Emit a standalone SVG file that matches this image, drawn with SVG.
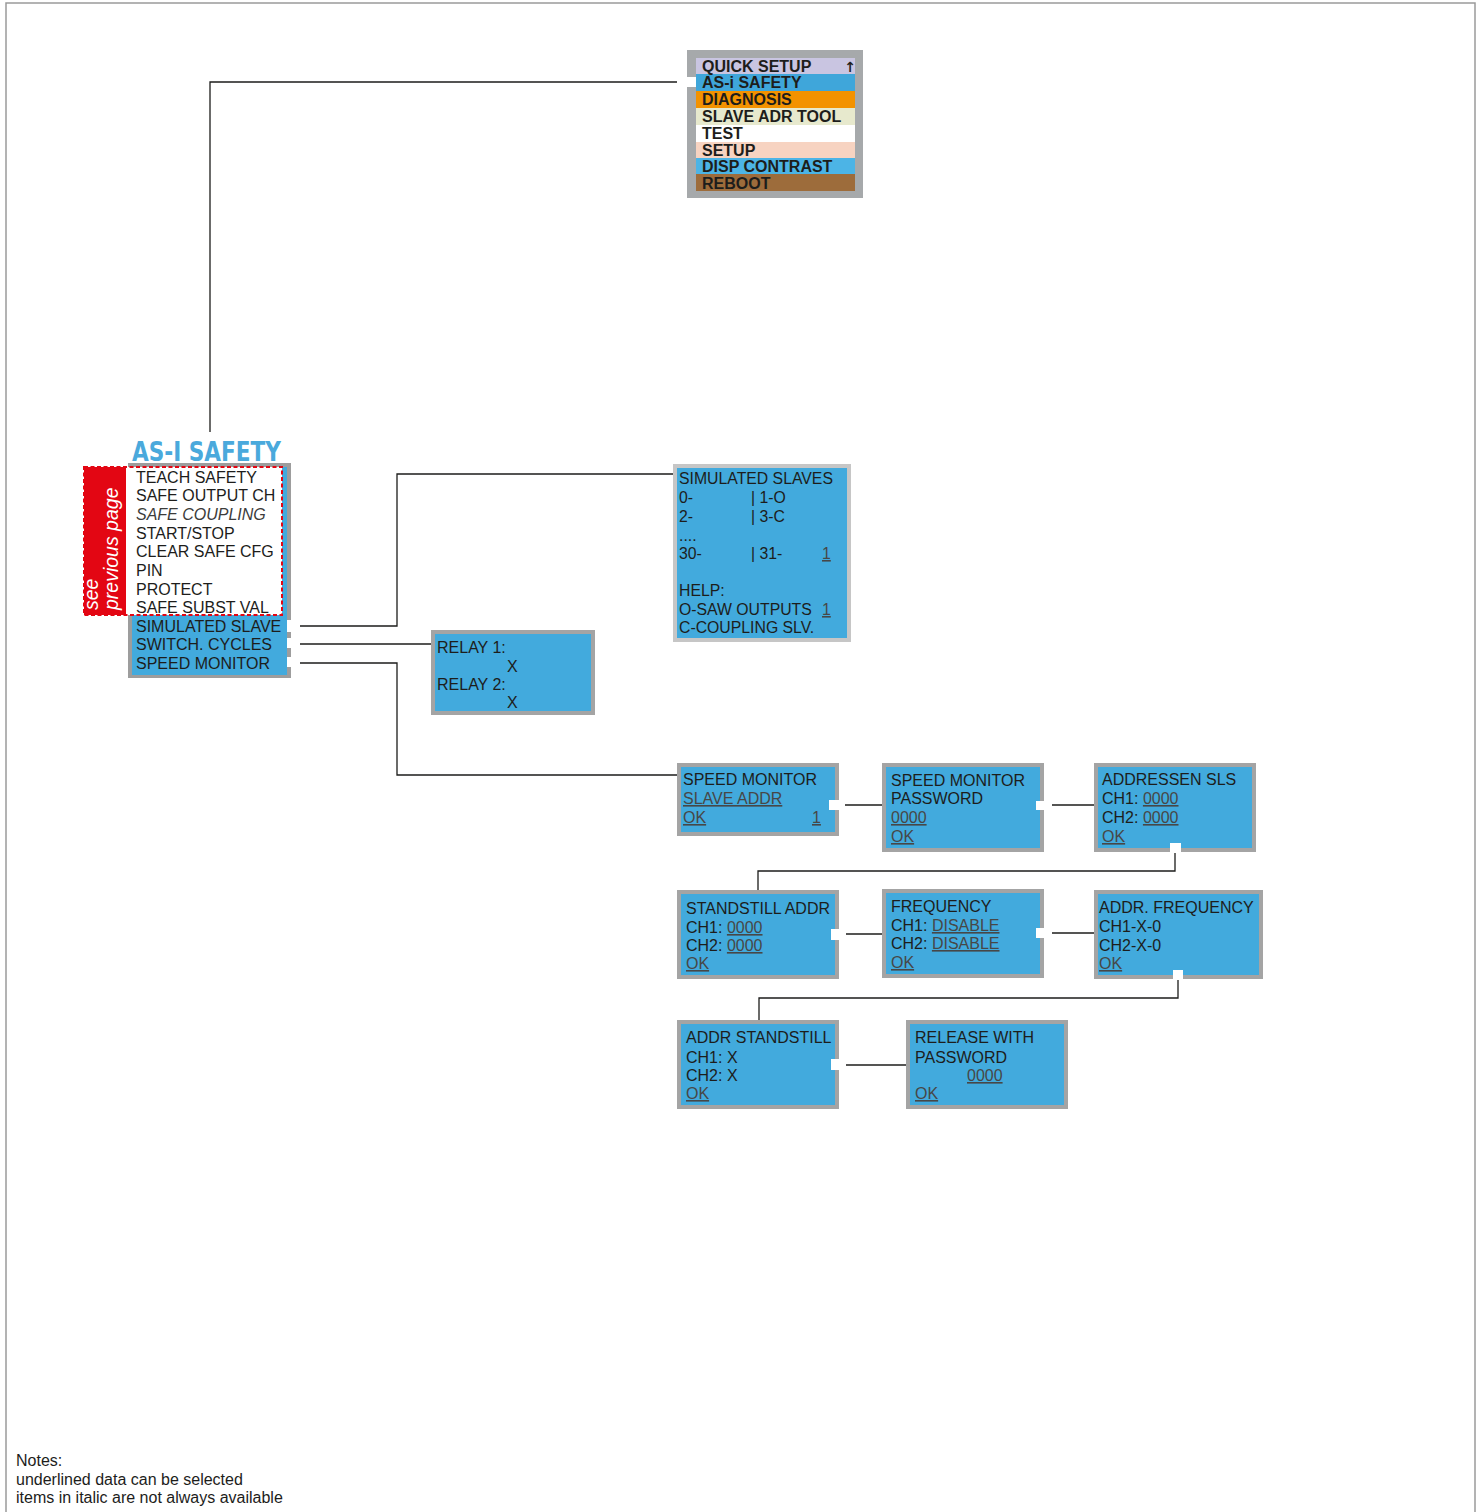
<svg xmlns="http://www.w3.org/2000/svg" width="1482" height="1512" viewBox="0 0 1482 1512">
<style>
.t{font-family:"Liberation Sans",Arial,sans-serif;font-size:16px;fill:#1d1d1b}
.b{font-weight:bold}
.u{fill:#474747;text-decoration:underline}
.box{fill:#42aadd;stroke:#a4a4a4;stroke-width:4}
.ln{stroke:#1d1d1b;stroke-width:1.3;fill:none}
.n{fill:#ffffff}
</style>
<rect width="1482" height="1512" fill="#ffffff"/>
<path d="M6,1512 V3 H1475 V1512" fill="none" stroke="#9a9a9a" stroke-width="1.5"/>

<g id="connectors">
<path class="ln" d="M210,432 V82 H677"/>
<path class="ln" d="M300,626 H397 V474 H676"/>
<path class="ln" d="M300,644 H431"/>
<path class="ln" d="M300,663 H397 V775 H677"/>
<path class="ln" d="M845,805 H882"/>
<path class="ln" d="M1052,805 H1094"/>
<path class="ln" d="M1175,853 V871 H758 V890"/>
<path class="ln" d="M846,934 H882"/>
<path class="ln" d="M1052,933 H1094"/>
<path class="ln" d="M1178,980 V998 H759 V1020"/>
<path class="ln" d="M846,1065 H906"/>
</g>

<g id="main-menu">
<rect x="687" y="50" width="176" height="148" fill="#a6a9ab"/>
<rect x="696" y="58" width="159" height="16" fill="#c9c5e1"/>
<rect x="696" y="74" width="159" height="17" fill="#3fa6da"/>
<rect x="696" y="91" width="159" height="17" fill="#f39200"/>
<rect x="696" y="108" width="159" height="17" fill="#e7e9cd"/>
<rect x="696" y="125" width="159" height="17" fill="#ffffff"/>
<rect x="696" y="142" width="159" height="16" fill="#f7d3c1"/>
<rect x="696" y="158" width="159" height="16" fill="#4cb4e6"/>
<rect x="696" y="174" width="159" height="17" fill="#9d6c3b"/>
<rect class="n" x="687" y="77" width="9" height="10"/>
<text class="t b" x="702" y="72">QUICK SETUP</text>
<text x="850" y="72" text-anchor="middle" style="font-family:'DejaVu Sans',sans-serif;font-weight:bold;font-size:14px;fill:#1d1d1b">↑</text>
<text class="t b" x="702" y="88">AS-i SAFETY</text>
<text class="t b" x="702" y="105">DIAGNOSIS</text>
<text class="t b" x="702" y="122">SLAVE ADR TOOL</text>
<text class="t b" x="702" y="139">TEST</text>
<text class="t b" x="702" y="156">SETUP</text>
<text class="t b" x="702" y="172">DISP CONTRAST</text>
<text class="t b" x="702" y="189">REBOOT</text>
</g>

<g id="asi-safety">
<text x="132" y="461" textLength="149" lengthAdjust="spacingAndGlyphs" style="font-family:'DejaVu Sans Condensed','DejaVu Sans',sans-serif;font-weight:bold;font-size:27px;fill:#4aa9dc">AS-I SAFETY</text>
<rect x="128" y="463" width="163" height="215" fill="#9d9d9d"/>
<rect x="132" y="467" width="155" height="208" fill="#42aadd"/>
<rect x="84" y="467" width="42" height="148" fill="#e30613"/>
<rect x="126" y="467" width="156" height="148" fill="#ffffff"/>
<rect x="84" y="467" width="198" height="148" fill="none" stroke="#e30613" stroke-width="2" stroke-dasharray="4 2.5"/>
<text transform="translate(98,610) rotate(-90)" style="font-family:'Liberation Sans',Arial,sans-serif;font-style:italic;font-size:19.5px;fill:#ffffff">see</text>
<text transform="translate(118,610) rotate(-90)" style="font-family:'Liberation Sans',Arial,sans-serif;font-style:italic;font-size:19.5px;fill:#ffffff">previous page</text>
<text class="t" x="136" y="483">TEACH SAFETY</text>
<text class="t" x="136" y="501">SAFE OUTPUT CH</text>
<text class="t" x="136" y="520" style="font-style:italic;fill:#3c3c3b">SAFE COUPLING</text>
<text class="t" x="136" y="539">START/STOP</text>
<text class="t" x="136" y="557">CLEAR SAFE CFG</text>
<text class="t" x="136" y="576">PIN</text>
<text class="t" x="136" y="595">PROTECT</text>
<text class="t" x="136" y="613">SAFE SUBST VAL</text>
<text class="t" x="136" y="632">SIMULATED SLAVE</text>
<text class="t" x="136" y="650">SWITCH. CYCLES</text>
<text class="t" x="136" y="669">SPEED MONITOR</text>
<rect class="n" x="287" y="620" width="8" height="12"/>
<rect class="n" x="287" y="638" width="8" height="10"/>
<rect class="n" x="287" y="657" width="8" height="10"/>
</g>

<g id="simulated-slaves">
<rect x="675" y="466" width="174" height="174" fill="#42aadd" stroke="#c6c6c6" stroke-width="4"/>
<text class="t" x="679" y="484" style="font-size:15.8px">SIMULATED SLAVES</text>
<text class="t" x="679" y="503" style="font-size:15.8px">0-</text>
<text class="t" x="751" y="503" style="font-size:15.8px">| 1-O</text>
<text class="t" x="679" y="522" style="font-size:15.8px">2-</text>
<text class="t" x="751" y="522" style="font-size:15.8px">| 3-C</text>
<text class="t" x="679" y="541" style="font-size:15.8px">....</text>
<text class="t" x="679" y="559" style="font-size:15.8px">30-</text>
<text class="t" x="751" y="559" style="font-size:15.8px">| 31-</text>
<text class="t u" x="822" y="559" style="font-size:15.8px">1</text>
<text class="t" x="679" y="596" style="font-size:15.8px">HELP:</text>
<text class="t" x="679" y="615" style="font-size:15.8px">O-SAW OUTPUTS</text>
<text class="t u" x="822" y="615" style="font-size:15.8px">1</text>
<text class="t" x="679" y="633" style="font-size:15.8px">C-COUPLING SLV.</text>
</g>

<g id="relay">
<rect class="box" x="433" y="632" width="160" height="81"/>
<text class="t" x="437" y="653">RELAY 1:</text>
<text class="t" x="507" y="672">X</text>
<text class="t" x="437" y="690">RELAY 2:</text>
<text class="t" x="507" y="708">X</text>
</g>

<g id="speed-monitor">
<rect class="box" x="679" y="765" width="158" height="69"/>
<text class="t" x="683" y="785">SPEED MONITOR</text>
<text class="t u" x="683" y="804">SLAVE ADDR</text>
<text class="t u" x="683" y="823">OK</text>
<text class="t u" x="812" y="823">1</text>
<rect class="n" x="829" y="800" width="12" height="10"/>
</g>

<g id="speed-monitor-password">
<rect class="box" x="884" y="765" width="158" height="85"/>
<text class="t" x="891" y="786">SPEED MONITOR</text>
<text class="t" x="891" y="804">PASSWORD</text>
<text class="t u" x="891" y="823">0000</text>
<text class="t u" x="891" y="842">OK</text>
<rect class="n" x="1036" y="801" width="11" height="9"/>
</g>

<g id="addressen-sls">
<rect class="box" x="1096" y="765" width="158" height="85"/>
<text class="t" x="1102" y="785">ADDRESSEN SLS</text>
<text class="t" x="1102" y="804">CH1: <tspan class="u">0000</tspan></text>
<text class="t" x="1102" y="823">CH2: <tspan class="u">0000</tspan></text>
<text class="t u" x="1102" y="842">OK</text>
<rect class="n" x="1170" y="843" width="11" height="10"/>
</g>

<g id="standstill-addr">
<rect class="box" x="679" y="892" width="158" height="85"/>
<text class="t" x="686" y="914">STANDSTILL ADDR</text>
<text class="t" x="686" y="933">CH1: <tspan class="u">0000</tspan></text>
<text class="t" x="686" y="951">CH2: <tspan class="u">0000</tspan></text>
<text class="t u" x="686" y="969">OK</text>
<rect class="n" x="831" y="929" width="9" height="11"/>
</g>

<g id="frequency">
<rect class="box" x="884" y="891" width="158" height="85"/>
<text class="t" x="891" y="912">FREQUENCY</text>
<text class="t" x="891" y="931">CH1: <tspan class="u">DISABLE</tspan></text>
<text class="t" x="891" y="949">CH2: <tspan class="u">DISABLE</tspan></text>
<text class="t u" x="891" y="968">OK</text>
<rect class="n" x="1036" y="928" width="11" height="10"/>
</g>

<g id="addr-frequency">
<rect class="box" x="1096" y="892" width="165" height="85"/>
<text class="t" x="1099" y="913">ADDR. FREQUENCY</text>
<text class="t" x="1099" y="932">CH1-X-0</text>
<text class="t" x="1099" y="951">CH2-X-0</text>
<text class="t u" x="1099" y="969">OK</text>
<rect class="n" x="1173" y="970" width="10" height="10"/>
</g>

<g id="addr-standstill">
<rect class="box" x="679" y="1022" width="158" height="85"/>
<text class="t" x="686" y="1043">ADDR STANDSTILL</text>
<text class="t" x="686" y="1063">CH1: X</text>
<text class="t" x="686" y="1081">CH2: X</text>
<text class="t u" x="686" y="1099">OK</text>
<rect class="n" x="831" y="1059" width="9" height="11"/>
</g>

<g id="release-with-password">
<rect class="box" x="908" y="1022" width="158" height="85"/>
<text class="t" x="915" y="1043">RELEASE WITH</text>
<text class="t" x="915" y="1063">PASSWORD</text>
<text class="t u" x="967" y="1081">0000</text>
<text class="t u" x="915" y="1099">OK</text>
</g>

<g id="notes">
<text class="t" x="16" y="1466" style="font-size:16px">Notes:</text>
<text class="t" x="16" y="1485" style="font-size:16px">underlined data can be selected</text>
<text class="t" x="16" y="1503" style="font-size:16px">items in italic are not always available</text>
</g>
</svg>
